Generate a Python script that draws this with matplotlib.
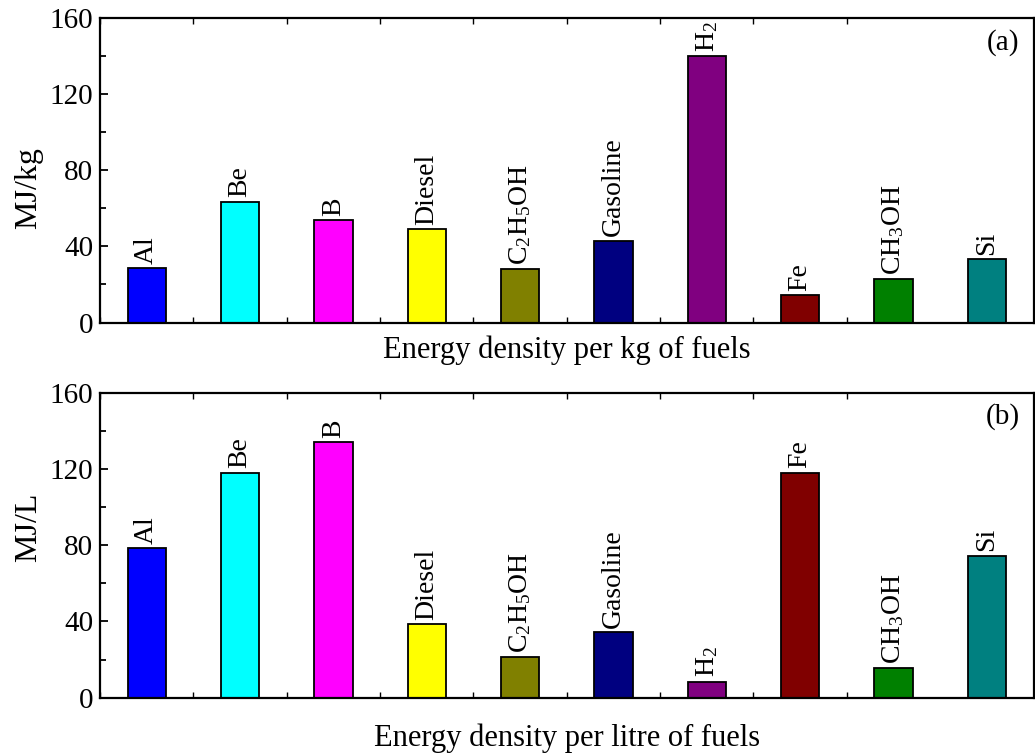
import matplotlib
matplotlib.use("Agg")
import matplotlib.pyplot as plt
from matplotlib.ticker import FixedLocator, MultipleLocator

plt.rcParams["font.family"] = ["Liberation Serif", "DejaVu Serif"]
plt.rcParams["mathtext.fontset"] = "custom"
plt.rcParams["mathtext.rm"] = "Liberation Serif"
plt.rcParams["mathtext.default"] = "regular"

fuels = ["Al", "Be", "B", "Diesel", "C$_2$H$_5$OH", "Gasoline",
         "H$_2$", "Fe", "CH$_3$OH", "Si"]
colors = ["#0000ff", "#00ffff", "#ff00ff", "#ffff00", "#808000",
          "#000080", "#800080", "#800000", "#008000", "#008080"]

# gravimetric and volumetric energy density
mj_per_kg = [28.5, 63.5, 54, 49, 28, 43, 140, 14.5, 23, 33.5]
mj_per_l = [78.5, 118, 134, 38.5, 21.5, 34.5, 8.5, 118, 15.5, 74.5]

fig = plt.figure(figsize=(10.35, 7.55), dpi=100)
ax1 = fig.add_axes([0.0966, 0.5728, 0.902, 0.4035])
ax2 = fig.add_axes([0.0966, 0.0758, 0.902, 0.4043])

# axes, values, y label, its height, x label, x label pad, tag
panels = [
    (ax1, mj_per_kg, "MJ/kg", 0.44, "Energy density per kg of fuels", 6, "(a)"),
    (ax2, mj_per_l, "MJ/L", 0.56, "Energy density per litre of fuels", 15, "(b)"),
]

x = list(range(1, len(fuels) + 1))

for ax, vals, ylab, ylab_y, xlab, xpad, tag in panels:
    ax.bar(x, vals, width=0.41, color=colors, edgecolor="black",
           linewidth=1.3, zorder=2)
    for xi, v, name in zip(x, vals, fuels):
        ax.annotate(name, (xi, v), xytext=(0, 3), textcoords="offset points",
                    rotation=90, ha="center", va="bottom", fontsize=20)

    ax.set_xlim(0.5, len(fuels) + 0.5)
    ax.set_ylim(0, 160)
    ax.yaxis.set_major_locator(MultipleLocator(40))
    ax.yaxis.set_minor_locator(MultipleLocator(20))
    ax.xaxis.set_major_locator(FixedLocator([i + 0.5 for i in range(len(fuels) - 1)]))
    ax.set_xticklabels([])
    ax.tick_params(axis="x", which="major", direction="in", length=4,
                   width=1, top=True, bottom=True)
    ax.tick_params(axis="y", which="major", direction="in", length=6,
                   width=1.3, labelsize=21, pad=5)
    ax.tick_params(axis="y", which="minor", direction="in", length=4,
                   width=1.3)
    for s in ax.spines.values():
        s.set_linewidth(1.6)

    ax.set_ylabel(ylab, fontsize=23)
    ax.yaxis.set_label_coords(-0.061, ylab_y)
    ax.set_xlabel(xlab, fontsize=22, labelpad=xpad)
    ax.text(0.985, 0.92, tag, transform=ax.transAxes, ha="right",
            va="center", fontsize=21)

fig.savefig("out.png", dpi=100)
